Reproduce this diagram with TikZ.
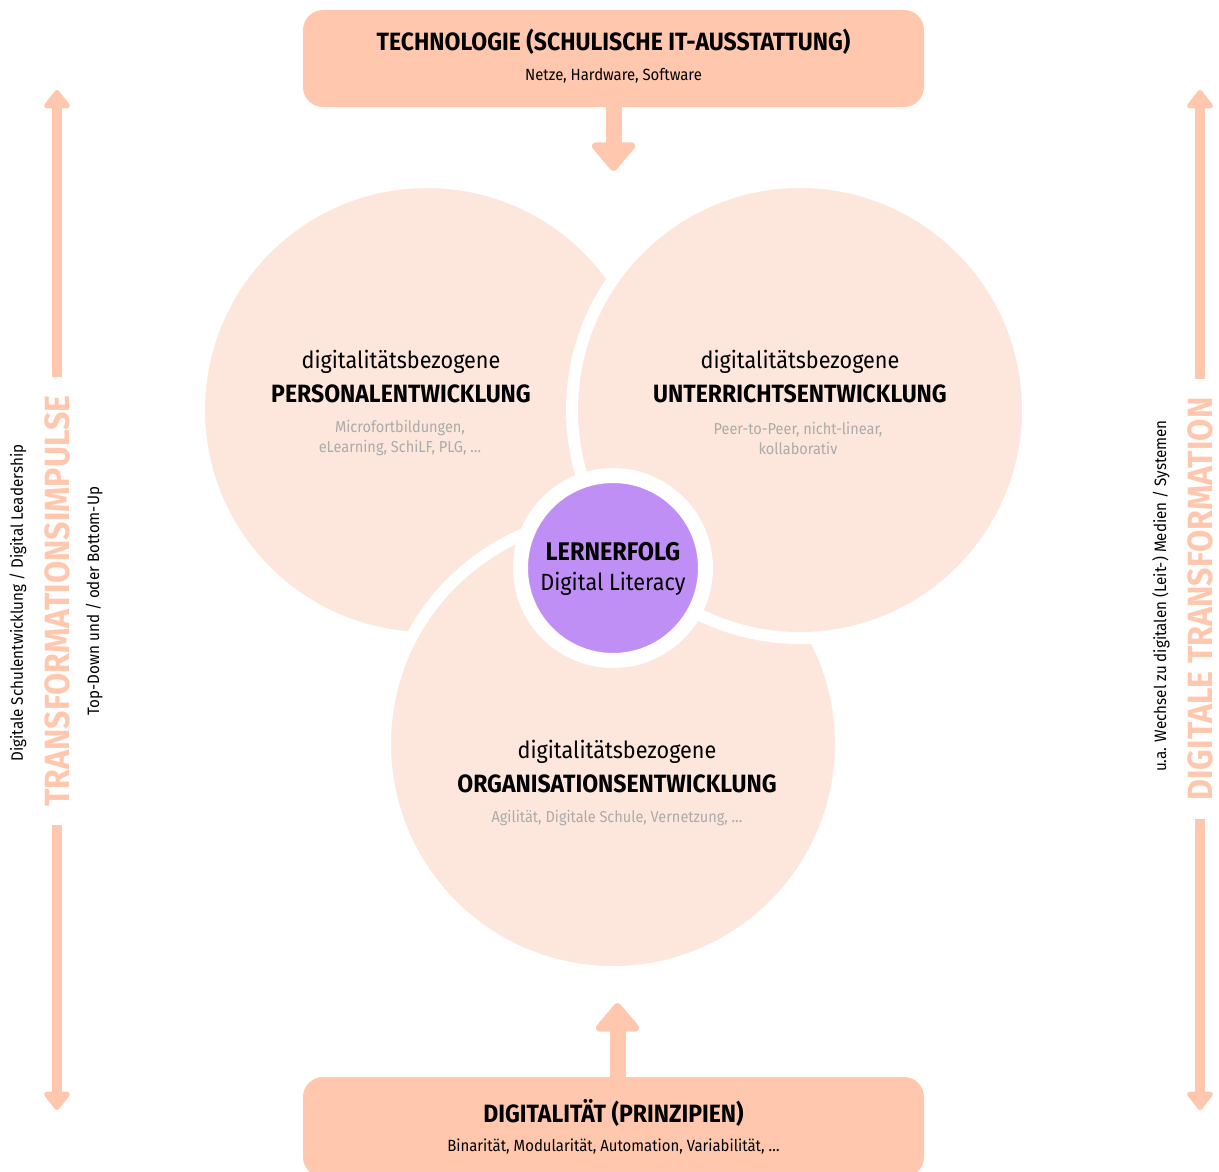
\documentclass[tikz,border=0pt]{standalone}
\usepackage{fontspec}
\setmainfont{Fira Sans}[FakeStretch=0.92]
\usetikzlibrary{arrows.meta}
\definecolor{boxc}{HTML}{FFC8AE}
\definecolor{circc}{HTML}{FDE6DC}
\definecolor{purp}{HTML}{C08FF6}
\definecolor{grayt}{HTML}{ABABAB}
\definecolor{sidet}{HTML}{FFC8AE}
\tikzset{
  box/.style={fill=boxc, rounded corners=20pt, inner sep=0pt},
  bigcirc/.style={circle, fill=circc, draw=white, line width=12pt, minimum size=456pt, inner sep=0pt},
  boxtitle/.style={font=\fontsize{25}{28}\selectfont\bfseries, inner sep=0pt},
  boxsub/.style={font=\fontsize{16.2}{18}\selectfont, inner sep=0pt},
  cthin/.style={font=\fontsize{23.5}{26}\selectfont, inner sep=0pt},
  cbold/.style={font=\fontsize{25}{28}\selectfont\bfseries, inner sep=0pt},
  cgray/.style={font=\fontsize{15.8}{20}\selectfont, text=grayt, align=center, inner sep=0pt},
  sidetitle/.style={font=\fontsize{35}{38}\selectfont\bfseries, text=sidet, inner xsep=18pt, inner ysep=0pt, text height=24pt, text depth=0pt},
  sidesmall/.style={font=\fontsize{16.5}{18}\selectfont, inner sep=0pt, text height=12pt, text depth=0pt},
  bigarrow/.style={draw=boxc, line width=16pt, -{Triangle[width=50pt,length=31pt,round]}},
  sidearrow/.style={draw=boxc, line width=10pt, -{Triangle[width=30pt,length=20pt,round]}},
}
\begin{document}
\begin{tikzpicture}[x=1pt,y=-1pt]
\useasboundingbox (0,0) rectangle (1219,1172);
% boxes
\node[box, minimum width=621pt, minimum height=97pt] (tech) at (613.5,58.5) {};
\node[box, minimum width=621pt, minimum height=100pt] (digi) at (613.5,1127) {};
\node[boxtitle] (techt) at (613.5,42) {TECHNOLOGIE (SCHULISCHE IT-AUSSTATTUNG)};
\node[boxsub] (techs) at (613.5,76) {Netze, Hardware, Software};
\node[boxtitle] (digit) at (613.5,1113) {DIGITALITÄT (PRINZIPIEN)};
\node[boxsub] (digis) at (613.5,1147) {Binarität, Modularität, Automation, Variabilität, \dots};
% vertical arrows
\coordinate (toptip) at (613.5,171);
\coordinate (bottip) at (617.5,1003);
\draw[bigarrow] (tech.south) -- (toptip);
\draw[bigarrow] (617.5,1077) -- (bottip);
% circles
\node[bigcirc] (pe) at (427,410) {};
\node[bigcirc] (oe) at (613,744) {};
\node[bigcirc] (ue) at (800,410) {};
\node[circle, fill=purp, draw=white, line width=15pt, minimum size=185pt, inner sep=0pt] (lf) at (613,568) {};
% circle texts
\node[cthin] (pe1) at (401,362) {digitalitätsbezogene};
\node[cbold] (pe2) at (401,394) {PERSONALENTWICKLUNG};
\node[cgray] (pe3) at (400,438) {Microfortbildungen,\\eLearning, SchiLF, PLG, \dots};
\node[cthin] (ue1) at (800,362) {digitalitätsbezogene};
\node[cbold] (ue2) at (800,394) {UNTERRICHTSENTWICKLUNG};
\node[cgray] (ue3) at (798,438) {Peer-to-Peer, nicht-linear,\\kollaborativ};
\node[cthin] (oe1) at (617,752) {digitalitätsbezogene};
\node[cbold] (oe2) at (617,784) {ORGANISATIONSENTWICKLUNG};
\node[cgray] (oe3) at (617,818) {Agilität, Digitale Schule, Vernetzung, \dots};
\node[font=\fontsize{25.5}{28}\selectfont\bfseries, inner sep=0pt] (lf1) at (613,552) {LERNERFOLG};
\node[cthin] (lf2) at (613,584) {Digital Literacy};
% left side
\coordinate (ltop) at (57,90);
\coordinate (lbot) at (57,1110);
\node[sidetitle, rotate=90] (ltext) at (57,601) {TRANSFORMATIONSIMPULSE};
\draw[sidearrow] (ltext.east) -- (ltop);
\draw[sidearrow] (ltext.west) -- (lbot);
\node[sidesmall, rotate=90] (lsm1) at (17,603) {Digitale Schulentwicklung / Digital Leadership};
\node[sidesmall, rotate=90] (lsm2) at (93,601) {Top-Down und / oder Bottom-Up};
% right side
\coordinate (rtop) at (1200,90);
\coordinate (rbot) at (1200,1110);
\node[sidetitle, rotate=90] (rtext) at (1200,599) {DIGITALE TRANSFORMATION};
\draw[sidearrow] (rtext.east) -- (rtop);
\draw[sidearrow] (rtext.west) -- (rbot);
\node[sidesmall, rotate=90] (rsm) at (1160,596) {u.a. Wechsel zu digitalen (Leit-) Medien / Systemen};
\end{tikzpicture}
\end{document}
